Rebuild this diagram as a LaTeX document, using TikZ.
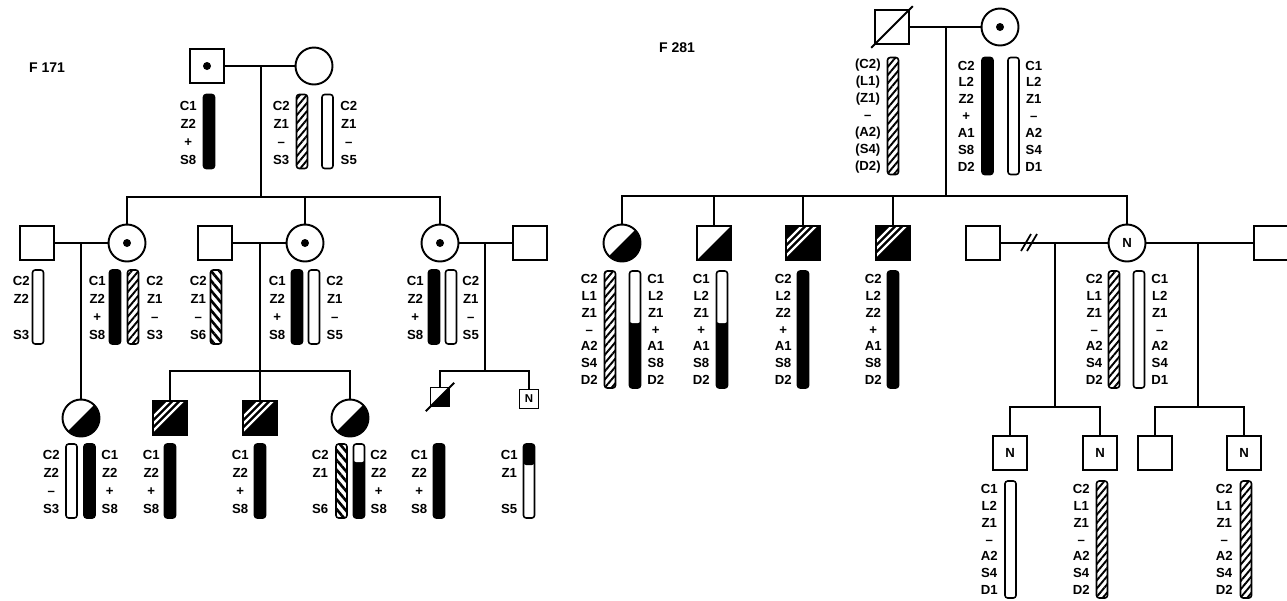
\documentclass[tikz,border=0pt]{standalone}
\usepackage{fontspec}
\setsansfont{Liberation Sans}
\usetikzlibrary{patterns.meta}
\tikzset{
  ln/.style={line width=1.1pt},
  male/.style={draw, line width=1.1pt, rectangle, minimum size=0.67cm, inner sep=0pt, fill=white,
    font=\sffamily\bfseries\fontsize{7.5}{9}\selectfont},
  female/.style={male, circle, minimum size=0.74cm},
  small/.style={minimum size=0.38cm, font=\sffamily\bfseries\fontsize{6.5}{8}\selectfont},
  carrier/.style={path picture={\fill[black] (path picture bounding box.center) circle (4);}},
  half/.style={path picture={\fill[black] (path picture bounding box.south west) -- (path picture bounding box.south east)
    -- (path picture bounding box.north east) -- cycle;}},
  halfhatch/.style={path picture={\fill[black] (path picture bounding box.south west) rectangle (path picture bounding box.north east);
    \foreach \k in {4,11,18}
      \draw[white, line width=1.3pt] ([shift={(-30,30-\k)}]path picture bounding box.center)
        -- ([shift={(30,-30-\k)}]path picture bounding box.center);}},
  bar/.style={draw, line width=0.9pt, minimum width=0.22cm, inner sep=0pt, rounded corners=1.5pt},
  sbar/.style={bar, minimum height=1.48cm},
  lbar/.style={bar, minimum height=2.34cm},
  bk/.style={fill=black},
  wh/.style={fill=white},
  hne/.style={pattern={Lines[angle=50, distance=3pt, line width=1.1pt]}},
  hnw/.style={pattern={Lines[angle=-50, distance=3.6pt, line width=1.5pt]}},
  wtop/.style={fill=black, path picture={\fill[white] (path picture bounding box.north west)
    rectangle ([yshift=-#1]path picture bounding box.north east);}},
  btop/.style={fill=white, path picture={\fill[black] (path picture bounding box.north west)
    rectangle ([yshift=-#1]path picture bounding box.north east);}},
  lab/.style={font=\sffamily\bfseries\fontsize{7.5}{10.4}\selectfont, inner sep=0pt, align=center},
  lab7/.style={font=\sffamily\bfseries\fontsize{7.5}{9.6}\selectfont, inner sep=0pt, align=center},
  labl/.style={anchor=east},
  labr/.style={anchor=west},
  title/.style={font=\sffamily\bfseries\fontsize{8}{10}\selectfont}
}
\begin{document}
\begin{tikzpicture}[x=0.02cm, y=-0.02cm]
\useasboundingbox (0,0) rectangle (1287,600);
% family F 171
\node[title] (f171) at (47,68) {F 171};
\node[male, carrier] (fa1) at (207,66) {};
\node[female] (mo1) at (314,66) {};
\draw[ln] (fa1) -- (mo1);
\coordinate (c1) at (261,66);
\coordinate (sib1) at (261,197);
\draw[ln] (c1) -- (sib1);
\node[sbar, bk] (b-fa1) at (209,131.5) {};
\node[lab, labl] (l-fa1) at (197,133) {C1\\Z2\\+\\S8};
\node[sbar, hne] (b-mo1a) at (302,131.5) {};
\node[lab, labl] (l-mo1a) at (290,133) {C2\\Z1\\–\\S3};
\node[sbar, wh] (b-mo1b) at (327.5,131.5) {};
\node[lab, labr] (l-mo1b) at (340,133) {C2\\Z1\\–\\S5};

\node[male] (h11) at (37,243) {};
\node[female, carrier] (d11) at (127,243) {};
\node[male] (h12) at (215,243) {};
\node[female, carrier] (d12) at (305,243) {};
\node[female, carrier] (d13) at (440,243) {};
\node[male] (h13) at (530,243) {};
\draw[ln] (d11) |- (sib1) -| (d13);
\draw[ln] (sib1 -| d12) -- (d12);
\draw[ln] (h11) -- (d11);
\draw[ln] (h12) -- (d12);
\draw[ln] (d13) -- (h13);
\coordinate (c11) at (81,243);
\coordinate (c12) at (260,243);
\coordinate (c13) at (485,243);

\node[sbar, wh] (b-h11) at (38,307) {};
\node[lab, labl] (l-h11) at (30,308) {C2\\Z2\\\phantom{+}\\S3};
\node[sbar, bk] (b-d11a) at (115,307) {};
\node[sbar, hne] (b-d11b) at (133,307) {};
\node[lab, labl] (l-d11a) at (106,308) {C1\\Z2\\+\\S8};
\node[lab, labr] (l-d11b) at (146,308) {C2\\Z1\\–\\S3};
\node[sbar, hnw] (b-h12) at (216,307) {};
\node[lab, labl] (l-h12) at (207,308) {C2\\Z1\\–\\S6};
\node[sbar, bk] (b-d12a) at (297,307) {};
\node[sbar, wh] (b-d12b) at (314,307) {};
\node[lab, labl] (l-d12a) at (286,308) {C1\\Z2\\+\\S8};
\node[lab, labr] (l-d12b) at (326,308) {C2\\Z1\\–\\S5};
\node[sbar, bk] (b-d13a) at (434,307) {};
\node[sbar, wh] (b-d13b) at (451,307) {};
\node[lab, labl] (l-d13a) at (424,308) {C1\\Z2\\+\\S8};
\node[lab, labr] (l-d13b) at (462,308) {C2\\Z1\\–\\S5};

\node[female, half] (g31) at (81,418) {};
\draw[ln] (c11) -- (g31);
\coordinate (sib12) at (260,371);
\draw[ln] (c12) -- (sib12);
\node[male, halfhatch] (g32) at (170,418) {};
\node[male, halfhatch] (g33) at (260,418) {};
\node[female, half] (g34) at (350,418) {};
\draw[ln] (g32) |- (sib12) -| (g34);
\draw[ln] (sib12) -- (g33);
\coordinate (sib13) at (485,371);
\draw[ln] (c13) -- (sib13);
\node[male, small, half] (g35) at (440,397) {};
\node[male, small] (g36) at (529,399) {N};
\draw[ln] (g35) |- (sib13) -| (g36);
\draw[ln, shorten <=-3pt, shorten >=-3pt] (g35.south west) -- (g35.north east);

\node[sbar, wh] (b-g31a) at (71.5,481) {};
\node[sbar, bk] (b-g31b) at (89.5,481) {};
\node[lab, labl] (l-g31a) at (60,482) {C2\\Z2\\–\\S3};
\node[lab, labr] (l-g31b) at (101,482) {C1\\Z2\\+\\S8};
\node[sbar, bk] (b-g32) at (170,481) {};
\node[lab, labl] (l-g32) at (160,482) {C1\\Z2\\+\\S8};
\node[sbar, bk] (b-g33) at (260,481) {};
\node[lab, labl] (l-g33) at (249,482) {C1\\Z2\\+\\S8};
\node[sbar, hnw] (b-g34a) at (341.5,481) {};
\node[sbar, wtop=0.36cm] (b-g34b) at (359,481) {};
\node[lab, labl] (l-g34a) at (329,482) {C2\\Z1\\\phantom{+}\\S6};
\node[lab, labr] (l-g34b) at (370,482) {C2\\Z2\\+\\S8};
\node[sbar, bk] (b-g35) at (439,481) {};
\node[lab, labl] (l-g35) at (428,482) {C1\\Z2\\+\\S8};
\node[sbar, btop=0.42cm] (b-g36) at (529,481) {};
\node[lab, labl] (l-g36) at (518,482) {C1\\Z1\\\phantom{+}\\S5};

% family F 281
\node[title] (f281) at (677,48) {F 281};
\node[male] (fa2) at (892,27) {};
\node[female, carrier] (mo2) at (1000,27) {};
\draw[ln] (fa2) -- (mo2);
\draw[ln, shorten <=-2.5pt, shorten >=-2.5pt] (fa2.south west) -- (fa2.north east);
\coordinate (c2) at (946,27);
\coordinate (sib2) at (946,196);
\draw[ln] (c2) -- (sib2);
\node[lbar, hne] (b-fa2) at (893,116) {};
\node[lab7, labl] (l-fa2) at (881,116) {(C2)\\(L1)\\(Z1)\\–\\(A2)\\(S4)\\(D2)};
\node[lbar, bk] (b-mo2a) at (987.5,116) {};
\node[lbar, wh] (b-mo2b) at (1013.5,116) {};
\node[lab7, labl] (l-mo2a) at (975,116) {C2\\L2\\Z2\\+\\A1\\S8\\D2};
\node[lab7, labr] (l-mo2b) at (1025,116) {C1\\L2\\Z1\\–\\A2\\S4\\D1};

\node[female, half] (s21) at (622,243) {};
\node[male, half] (s22) at (714,243) {};
\node[male, halfhatch] (s23) at (803,243) {};
\node[male, halfhatch] (s24) at (893,243) {};
\node[male] (h21) at (983,243) {};
\node[female] (s25) at (1127,243) {N};
\node[male] (h22) at (1271,243) {};
\draw[ln] (s21) |- (sib2) -| (s25);
\foreach \n in {s22,s23,s24}
  \draw[ln] (sib2 -| \n) -- (\n);
\draw[ln] (h21) -- (s25) -- (h22);
\coordinate (dv) at (1029,243);
\draw[line width=1pt] ([shift={(-8,8)}]dv) -- ([shift={(2,-9)}]dv)
  ([shift={(-2,8)}]dv) -- ([shift={(8,-9)}]dv);
\coordinate (c21) at (1055,243);
\coordinate (sib21) at (1055,407);
\coordinate (c22) at (1198,243);
\coordinate (sib22) at (1198,407);
\draw[ln] (c21) -- (sib21);
\draw[ln] (c22) -- (sib22);

\node[lbar, hne] (b-s21a) at (610,329.5) {};
\node[lbar, wtop=1.04cm] (b-s21b) at (635,329.5) {};
\node[lab7, labl] (l-s21a) at (598,329.5) {C2\\L1\\Z1\\–\\A2\\S4\\D2};
\node[lab7, labr] (l-s21b) at (647,329.5) {C1\\L2\\Z1\\+\\A1\\S8\\D2};
\node[lbar, wtop=1.04cm] (b-s22) at (722,329.5) {};
\node[lab7, labl] (l-s22) at (710,329.5) {C1\\L2\\Z1\\+\\A1\\S8\\D2};
\node[lbar, bk] (b-s23) at (803,329.5) {};
\node[lab7, labl] (l-s23) at (792,329.5) {C2\\L2\\Z2\\+\\A1\\S8\\D2};
\node[lbar, bk] (b-s24) at (893,329.5) {};
\node[lab7, labl] (l-s24) at (882,329.5) {C2\\L2\\Z2\\+\\A1\\S8\\D2};
\node[lbar, hne] (b-s25a) at (1114,329.5) {};
\node[lbar, wh] (b-s25b) at (1139,329.5) {};
\node[lab7, labl] (l-s25a) at (1103,329.5) {C2\\L1\\Z1\\–\\A2\\S4\\D2};
\node[lab7, labr] (l-s25b) at (1151,329.5) {C1\\L2\\Z1\\–\\A2\\S4\\D1};

\node[male] (t1) at (1010,453) {N};
\node[male] (t2) at (1100,453) {N};
\node[male] (t3) at (1155,453) {};
\node[male] (t4) at (1244,453) {N};
\draw[ln] (t1) |- (sib21) -| (t2);
\draw[ln] (t3) |- (sib22) -| (t4);
\node[lbar, wh] (b-t1) at (1010.5,539.5) {};
\node[lab7, labl] (l-t1) at (998,539.5) {C1\\L2\\Z1\\–\\A2\\S4\\D1};
\node[lbar, hne] (b-t2) at (1102,539.5) {};
\node[lab7, labl] (l-t2) at (1090,539.5) {C2\\L1\\Z1\\–\\A2\\S4\\D2};
\node[lbar, hne] (b-t4) at (1246,539.5) {};
\node[lab7, labl] (l-t4) at (1233,539.5) {C2\\L1\\Z1\\–\\A2\\S4\\D2};
\end{tikzpicture}
\end{document}
